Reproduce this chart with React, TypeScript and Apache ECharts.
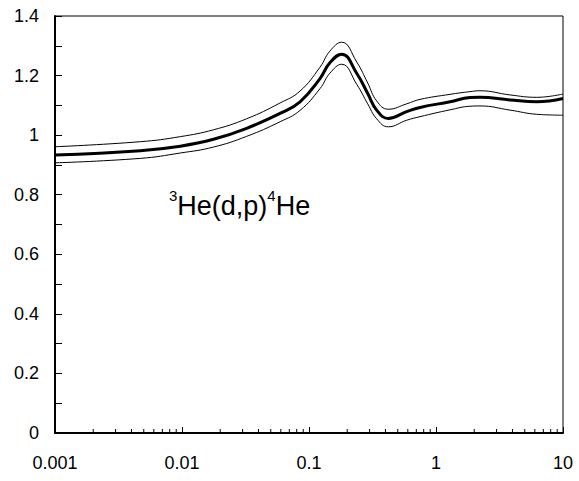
import React, { useEffect, useRef } from "react";
import * as echarts from "echarts";

const energies = [0.001, 0.0047, 0.0097, 0.0177, 0.0323, 0.0592, 0.085, 0.122, 0.146, 0.181, 0.238, 0.29, 0.341, 0.421, 0.587, 0.748, 1.29, 1.85, 2.22, 3.83, 6.21, 10];
const central = [0.933, 0.948, 0.963, 0.986, 1.023, 1.073, 1.112, 1.19, 1.243, 1.272, 1.207, 1.14, 1.084, 1.056, 1.079, 1.093, 1.112, 1.126, 1.127, 1.118, 1.112, 1.123];
const upper = [0.961, 0.978, 0.995, 1.018, 1.055, 1.108, 1.148, 1.228, 1.282, 1.312, 1.245, 1.175, 1.115, 1.087, 1.105, 1.12, 1.137, 1.146, 1.149, 1.135, 1.127, 1.138];
const lower = [0.907, 0.922, 0.94, 0.96, 0.996, 1.045, 1.083, 1.156, 1.208, 1.238, 1.17, 1.105, 1.055, 1.028, 1.05, 1.062, 1.085, 1.097, 1.098, 1.084, 1.07, 1.067];
const xTickLabels = ["0.001", "0.01", "0.1", "1", "10"];
const minorTickValues: number[] = [];
[0.001, 0.01, 0.1, 1].forEach((d) => {
  for (let k = 2; k <= 9; k++) minorTickValues.push(d * k);
});

const FONT = "'Liberation Sans', Arial, sans-serif";

export default function App() {
  const ref = useRef<HTMLDivElement>(null);
  useEffect(() => {
    if (!ref.current) return;
    const chart = echarts.init(ref.current, null, { renderer: "svg" });
    const pairs = (ys: number[]) => energies.map((x, i) => [x, ys[i]]);
    chart.setOption({
      animation: false,
      backgroundColor: "#fff",
      grid: {
        left: 55,
        right: 16,
        top: 16,
        bottom: 48,
        containLabel: false,
        show: true,
        borderColor: "#000",
        borderWidth: 1,
      },
      xAxis: {
        type: "log",
        logBase: 10,
        min: 0.001,
        max: 10,
        axisLine: { show: true, onZero: false, lineStyle: { color: "#000", width: 2 } },
        axisTick: { show: true, inside: true, length: 6, lineStyle: { color: "#000", width: 1 } },
        splitLine: { show: false },
        axisLabel: {
          margin: 21,
          color: "#000",
          fontSize: 18,
          fontFamily: FONT,
          formatter: (v: number) => {
            const i = Math.round(Math.log10(v)) + 3;
            return xTickLabels[i] ?? "";
          },
        },
      },
      yAxis: {
        type: "value",
        min: 0,
        max: 1.4,
        interval: 0.2,
        axisLine: { show: true, lineStyle: { color: "#000", width: 2 } },
        axisTick: { show: true, inside: true, length: 7, lineStyle: { color: "#000", width: 1 } },
        minorTick: { show: true, splitNumber: 2, length: 7, lineStyle: { color: "#000", width: 1 } },
        splitLine: { show: false },
        minorSplitLine: { show: false },
        axisLabel: {
          margin: 16,
          color: "#000",
          fontSize: 18,
          fontFamily: FONT,
        },
      },
      series: [
        {
          type: "line",
          data: pairs(upper),
          smooth: 0.45,
          showSymbol: false,
          lineStyle: { color: "#000", width: 1 },
        },
        {
          type: "line",
          data: pairs(lower),
          smooth: 0.45,
          showSymbol: false,
          lineStyle: { color: "#000", width: 1 },
        },
        {
          type: "line",
          data: pairs(central),
          smooth: 0.45,
          showSymbol: false,
          lineStyle: { color: "#000", width: 3 },
        },
        {
          type: "custom",
          data: minorTickValues.map((v) => [v, 0]),
          clip: false,
          silent: true,
          z: 5,
          renderItem: (params: any, api: any) => {
            const p = api.coord([api.value(0), 0]);
            return {
              type: "line",
              shape: { x1: p[0], y1: p[1], x2: p[0], y2: p[1] - 4 },
              style: { stroke: "#000", lineWidth: 1 },
            };
          },
        },
      ],
      graphic: [
        {
          type: "text",
          left: 169,
          top: 188,
          style: {
            text: "{sup|3}{main|He(d,p)}{sup|4}{main|He}",
            rich: {
              main: { fontSize: 27, fontFamily: FONT, fill: "#000", lineHeight: 31, verticalAlign: "bottom" },
              sup: { fontSize: 15, fontFamily: FONT, fill: "#000", lineHeight: 31, verticalAlign: "top" },
            },
          },
        },
      ],
    });
    return () => chart.dispose();
  }, []);
  return (
    <div
      ref={ref}
      style={{ position: "fixed", left: 0, top: 0, width: 579, height: 481 }}
    />
  );
}
